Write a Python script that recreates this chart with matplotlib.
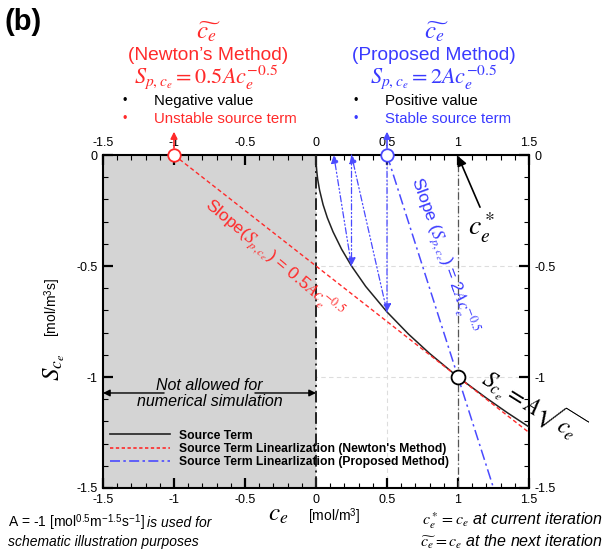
import numpy as np
import matplotlib
matplotlib.use("Agg")
import matplotlib.pyplot as plt
from matplotlib.lines import Line2D

plt.rcParams['font.family'] = ['Liberation Sans', 'DejaVu Sans']
plt.rcParams['mathtext.fontset'] = 'stix'

# ---- data ----
A = -1.0
c_star = 1.0
S_star = -1.0
src_c = [0, 0.0005, 0.002, 0.006, 0.012, 0.025, 0.05, 0.08, 0.12, 0.18, 0.25, 0.35,
         0.5, 0.65, 0.8, 1.0, 1.2, 1.35, 1.5]
src_S = [0, -0.022, -0.045, -0.077, -0.110, -0.158, -0.224, -0.283, -0.346, -0.424,
         -0.5, -0.592, -0.707, -0.806, -0.894, -1.0, -1.095, -1.162, -1.225]
newton_c = [-1.0, 1.5]
newton_S = [0.0, -1.25]
prop_c = [0.5, 1.25]
prop_S = [0.0, -1.5]
iter_c = [0.5, 0.5, 0.25, 0.25, 0.125]
iter_S = [0.0, -0.707, 0.0, -0.5, 0.0]
xticks = [-1.5, -1, -0.5, 0, 0.5, 1, 1.5]
xticklabels = ['-1.5', '-1', '-0.5', '0', '0.5', '1', '1.5']
yticks = [-1.5, -1, -0.5, 0]
yticklabels = ['-1.5', '-1', '-0.5', '0']
legend_labels = ['Source Term',
                 "Source Term Linearlization (Newton's Method)",
                 'Source Term Linearlization (Proposed Method)']

RED = '#ff2a2a'
BLUE = '#4a4aff'
BLUET = '#3a3aff'
W, H = 607, 551

fig = plt.figure(figsize=(6.07, 5.51), dpi=100)
ax = fig.add_axes([103 / W, 1 - 488 / H, 426 / W, 333 / H])
ax.set_xlim(-1.5, 1.5)
ax.set_ylim(-1.5, 0)

# grid
for x in xticks[1:-1]:
    ax.axvline(x, color='#dddddd', lw=0.8, ls=(0, (4, 3)), zorder=0)
for y in yticks[1:-1]:
    ax.axhline(y, color='#dddddd', lw=0.8, ls=(0, (4, 3)), zorder=0)

# shaded not-allowed region
ax.axvspan(-1.5, 0, color='#d4d4d4', zorder=0.5, lw=0)

# vertical lines
ax.axvline(0, color='#222222', lw=1.4, ls=(0, (6, 2, 1, 2)), zorder=2)
ax.axvline(c_star, color='#555555', lw=0.9, ls=(0, (6, 2, 1, 2)), zorder=2)

# curves
ax.plot(src_c, src_S, color='#222222', lw=1.1, zorder=3)
ax.plot(newton_c, newton_S, color=RED, lw=1.0, ls=(0, (3, 2)), zorder=3)
ax.plot(prop_c, prop_S, color=BLUE, lw=1.1, ls=(0, (7, 2.5, 1.5, 2.5)), zorder=3)

# iteration arrows
for i in range(len(iter_c) - 1):
    ax.annotate('', xy=(iter_c[i + 1], iter_S[i + 1]), xytext=(iter_c[i], iter_S[i]),
                arrowprops=dict(arrowstyle='-|>', color=BLUE, lw=0.9,
                                ls=(0, (5, 2, 1, 2, 1, 2)), mutation_scale=12,
                                shrinkA=0, shrinkB=0), zorder=4)

# markers
ax.plot([-1.0], [0.0], 'o', ms=9, mfc='white', mec=RED, mew=1.3, clip_on=False, zorder=6)
ax.plot([0.5], [0.0], 'o', ms=9, mfc='white', mec=BLUE, mew=1.3, clip_on=False, zorder=6)
ax.plot([c_star], [S_star], 'o', ms=10, mfc='white', mec='black', mew=1.3, zorder=6)

# not allowed arrow
ax.annotate('', xy=(-1.5, -1.072), xytext=(-1.07, -1.072),
            arrowprops=dict(arrowstyle='-|>', color='black', lw=1, mutation_scale=10,
                            shrinkA=0, shrinkB=0))
ax.annotate('', xy=(0.0, -1.072), xytext=(-0.43, -1.072),
            arrowprops=dict(arrowstyle='-|>', color='black', lw=1, mutation_scale=10,
                            shrinkA=0, shrinkB=0))
ax.text(-0.75, -1.075, 'Not allowed for\nnumerical simulation', ha='center', va='center',
        fontsize=11.5, style='italic', linespacing=1.1)

# c_e^* arrow
ax.annotate('', xy=(1.0, -0.005), xytext=(1.155, -0.235),
            arrowprops=dict(arrowstyle='-|>', color='black', lw=1.2, mutation_scale=14,
                            shrinkA=0, shrinkB=0), annotation_clip=False)
ax.text(1.17, -0.33, r'$c_e^*$', fontsize=20, ha='center', va='center')

# slanted labels
ax.text(-0.30, -0.465, r'Slope($S_{p,c_e}$) = 0.5$Ac_e^{-0.5}$', color=RED, fontsize=12.5,
        rotation=-40, ha='center', va='center', rotation_mode='anchor')
ax.text(0.9, -0.45, r'Slope ($S_{p,c_e}$) = 2$Ac_e^{-0.5}$', color=BLUET, fontsize=12.5,
        rotation=-70, ha='center', va='center', rotation_mode='anchor')
ax.text(1.53, -1.12, r'$S_{c_e} = A\sqrt{c_e}$', color='black', fontsize=17,
        rotation=-32, ha='center', va='center', rotation_mode='anchor', clip_on=False)

# ticks
ax.set_xticks(xticks)
ax.set_xticklabels(xticklabels)
ax.set_yticks(yticks)
ax.set_yticklabels(yticklabels)
ax.set_xticks(np.arange(-1.5, 1.51, 0.1), minor=True)
ax.set_yticks(np.arange(-1.5, 0.01, 0.1), minor=True)
ax.tick_params(which='both', direction='in', top=True, right=True,
               labeltop=True, labelright=True, labelsize=9)
ax.tick_params(which='major', length=7, width=1.6, pad=4)
ax.tick_params(which='minor', length=3.5, width=0.8)
for s in ax.spines.values():
    s.set_linewidth(1.5)

# legend
handles = [Line2D([], [], color='#222222', lw=1.2),
           Line2D([], [], color=RED, lw=1.2, ls=(0, (2, 1.5))),
           Line2D([], [], color=BLUE, lw=1.2, ls=(0, (6, 2, 1.5, 2)))]
ax.legend(handles, legend_labels, loc='upper left', bbox_to_anchor=(0.005, 0.19),
          frameon=False, prop=dict(weight='bold', size=8.7), handlelength=5.0,
          labelspacing=0.12, handletextpad=0.7, borderaxespad=0)

def fx(px):
    return px / W

def fy(py):
    return 1 - py / H

# panel label
fig.text(fx(5), fy(22), '(b)', fontsize=21, weight='bold', va='center', ha='left')

# top annotations - Newton
fig.text(fx(208), fy(32), r'$\widetilde{c_e}$', color=RED, fontsize=18, ha='center', va='center')
fig.text(fx(208), fy(55), "(Newton\u2019s Method)", color=RED, fontsize=13.8, ha='center', va='center')
fig.text(fx(206), fy(77), r'$S_{p,c_e} = 0.5Ac_e^{-0.5}$', color=RED, fontsize=16, ha='center', va='center')
fig.text(fx(125), fy(101), '\u2022', color='black', fontsize=9, ha='center', va='center')
fig.text(fx(154), fy(101), 'Negative value', color='black', fontsize=10.8, ha='left', va='center')
fig.text(fx(125), fy(119), '\u2022', color=RED, fontsize=9, ha='center', va='center')
fig.text(fx(154), fy(119), 'Unstable source term', color=RED, fontsize=10.8, ha='left', va='center')

# top annotations - Proposed
fig.text(fx(436), fy(32), r'$\widetilde{c_e}$', color=BLUET, fontsize=18, ha='center', va='center')
fig.text(fx(434), fy(55), '(Proposed Method)', color=BLUET, fontsize=13.8, ha='center', va='center')
fig.text(fx(434), fy(77), r'$S_{p,c_e} = 2Ac_e^{-0.5}$', color=BLUET, fontsize=16, ha='center', va='center')
fig.text(fx(356), fy(101), '\u2022', color='black', fontsize=9, ha='center', va='center')
fig.text(fx(385), fy(101), 'Positive value', color='black', fontsize=10.8, ha='left', va='center')
fig.text(fx(356), fy(119), '\u2022', color=BLUET, fontsize=9, ha='center', va='center')
fig.text(fx(385), fy(119), 'Stable source term', color=BLUET, fontsize=10.8, ha='left', va='center')

# arrows from circles upward
ax.annotate('', xy=(-1.0, 0.105), xytext=(-1.0, 0.0),
            arrowprops=dict(arrowstyle='-|>', color=RED, lw=1.2, mutation_scale=10,
                            shrinkA=5, shrinkB=0), annotation_clip=False)
ax.annotate('', xy=(0.5, 0.105), xytext=(0.5, 0.0),
            arrowprops=dict(arrowstyle='-|>', color=BLUE, lw=1.2, mutation_scale=10,
                            shrinkA=5, shrinkB=0), annotation_clip=False)

# axis labels
fig.text(fx(278), fy(514), r'$c_e$', fontsize=18, ha='center', va='center')
fig.text(fx(308), fy(517), r'[mol/m$^{\mathregular{3}}$]', fontsize=10, ha='left', va='center')
fig.text(fx(54), fy(367), r'$S_{c_e}$', fontsize=18, ha='center', va='center', rotation=90)
fig.text(fx(53), fy(307), r'[mol/m$^{\mathregular{3}}$s]', fontsize=10, ha='center', va='center', rotation=90)

# bottom notes
t1 = fig.text(fx(8), fy(523),
              r'A = -1 [mol$^{\mathregular{0.5}}$m$^{\mathregular{-1.5}}$s$^{\mathregular{-1}}$]',
              fontsize=10, ha='left', va='center')
fig.canvas.draw()
bb = t1.get_window_extent(renderer=fig.canvas.get_renderer())
fig.text(bb.x1 / (fig.dpi * fig.get_figwidth()) + 0.004, fy(523), 'is used for',
         fontsize=10, style='italic', ha='left', va='center')
fig.text(fx(8), fy(542), 'schematic illustration purposes', fontsize=10, style='italic',
         ha='left', va='center')
fig.text(fx(603), fy(521), r'$c_e^* = c_e$ at current iteration', fontsize=11.5,
         style='italic', ha='right', va='center')
fig.text(fx(603), fy(542), r'$\widetilde{c_e} = c_e$ at the next iteration', fontsize=11.5,
         style='italic', ha='right', va='center')

fig.savefig('out.png', dpi=100)
